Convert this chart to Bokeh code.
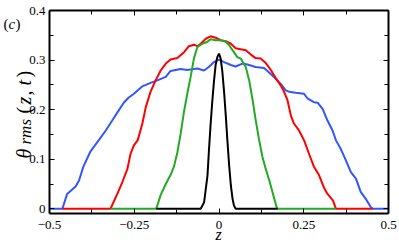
import math
from bokeh.plotting import figure
from bokeh.models import FixedTicker, LinearAxis, Label, Range1d
from bokeh.embed import file_html
from bokeh.resources import INLINE

# ---- data ----
blue_x = [-0.5, -0.462, -0.448, -0.423, -0.413, -0.400, -0.379, -0.354, -0.334, -0.315, -0.299,
          -0.281, -0.267, -0.251, -0.226, -0.202, -0.182, -0.157, -0.143, -0.113, -0.093, -0.084,
          -0.064, -0.044, -0.030, -0.015, 0.0, 0.015, 0.035, 0.049, 0.069, 0.084, 0.108, 0.133,
          0.143, 0.162, 0.182, 0.197, 0.207, 0.226, 0.251, 0.262, 0.280, 0.291, 0.306, 0.320,
          0.335, 0.345, 0.359, 0.374, 0.389, 0.404, 0.418, 0.433, 0.448, 0.454, 0.5]
blue_y = [0, 0, 0.030, 0.045, 0.057, 0.085, 0.116, 0.139, 0.158, 0.178, 0.195,
          0.214, 0.224, 0.232, 0.247, 0.254, 0.259, 0.266, 0.278, 0.282, 0.280, 0.281,
          0.283, 0.279, 0.286, 0.296, 0.301, 0.296, 0.290, 0.287, 0.293, 0.291, 0.286, 0.284,
          0.278, 0.266, 0.252, 0.239, 0.236, 0.234, 0.232, 0.222, 0.215, 0.214, 0.201, 0.178,
          0.158, 0.138, 0.121, 0.098, 0.074, 0.061, 0.034, 0.020, 0.003, 0, 0]

red_x = [-0.462, -0.320, -0.300, -0.285, -0.270, -0.261, -0.251, -0.240, -0.226, -0.216, -0.202,
         -0.187, -0.172, -0.157, -0.143, -0.123, -0.103, -0.089, -0.074, -0.064, -0.054, -0.039,
         -0.025, -0.010, 0.005, 0.020, 0.035, 0.049, 0.064, 0.079, 0.094, 0.108, 0.123, 0.138,
         0.153, 0.168, 0.182, 0.192, 0.202, 0.212, 0.221, 0.236, 0.251, 0.266, 0.280, 0.295,
         0.310, 0.320, 0.336, 0.345, 0.454]
red_y = [0, 0, 0.030, 0.054, 0.081, 0.111, 0.128, 0.138, 0.172, 0.205, 0.236,
         0.259, 0.279, 0.293, 0.301, 0.304, 0.316, 0.328, 0.331, 0.328, 0.333, 0.343,
         0.348, 0.345, 0.340, 0.338, 0.333, 0.324, 0.322, 0.320, 0.311, 0.304, 0.303, 0.294,
         0.280, 0.263, 0.249, 0.236, 0.219, 0.188, 0.172, 0.158, 0.138, 0.110, 0.085, 0.068,
         0.042, 0.030, 0.017, 0.0, 0]

green_x = [-0.320, -0.185, -0.172, -0.157, -0.143, -0.133, -0.123, -0.113, -0.103, -0.093, -0.084,
           -0.074, -0.064, -0.049, -0.034, -0.025, -0.010, 0.005, 0.020, 0.030, 0.044, 0.054,
           0.064, 0.079, 0.089, 0.099, 0.108, 0.118, 0.128, 0.138, 0.148, 0.162, 0.170, 0.173,
           0.345]
green_y = [0, 0, 0.028, 0.050, 0.068, 0.085, 0.113, 0.152, 0.197, 0.234, 0.265,
           0.303, 0.326, 0.333, 0.337, 0.342, 0.340, 0.340, 0.337, 0.330, 0.316, 0.306,
           0.303, 0.286, 0.259, 0.220, 0.180, 0.140, 0.105, 0.080, 0.058, 0.023, 0.003, 0,
           0]

black_x = [-0.185, -0.054, -0.044, -0.034, -0.030, -0.025, -0.020, -0.015, -0.010, -0.005, 0.0,
           0.005, 0.010, 0.015, 0.020, 0.025, 0.030, 0.035, 0.040, 0.044, 0.049, 0.173]
black_y = [0, 0, 0.013, 0.067, 0.114, 0.168, 0.215, 0.256, 0.290, 0.306, 0.313,
           0.303, 0.276, 0.236, 0.188, 0.135, 0.087, 0.047, 0.020, 0.007, 0, 0]

x_ticks = [-0.5, -0.25, 0.0, 0.25, 0.5]
x_tick_labels = ["\u22120.5", "\u22120.25", "0", "0.25", "0.5"]
x_minor = [-0.375, -0.125, 0.125, 0.375]
y_ticks = [0.0, 0.1, 0.2, 0.3, 0.4]
y_tick_labels = ["0", "0.1", "0.2", "0.3", "0.4"]
y_minor = [0.05, 0.15, 0.25, 0.35]
x_lo, x_hi = -0.5, 0.5
y_lo, y_hi = -0.0089, 0.4

FONT = "Liberation Serif"
W, H = 399, 243
# pixel box of the plotting area inside the canvas
L_PX, R_PX, T_PX, B_PX = 49, 388, 10, 212.7
sx = (x_hi - x_lo) / (R_PX - L_PX)
sy = (y_hi - y_lo) / (B_PX - T_PX)

p = figure(width=W, height=H, output_backend="svg", toolbar_location=None,
           x_range=Range1d(x_lo - L_PX * sx, x_hi + (W - R_PX) * sx),
           y_range=Range1d(y_lo - (H - B_PX) * sy, y_hi + T_PX * sy),
           min_border=0, x_axis_location=None, y_axis_location=None)
p.background_fill_color = "white"
p.border_fill_color = "white"
p.outline_line_color = None
p.grid.visible = False

def make_axis(side, loc, ticks, minor, labels, bounds, show_labels, standoff):
    ax = LinearAxis(fixed_location=loc, bounds=bounds)
    ax.ticker = FixedTicker(ticks=ticks, minor_ticks=minor)
    ax.axis_line_width = 2
    ax.axis_line_color = "black"
    ax.major_tick_in = 5
    ax.major_tick_out = 0
    ax.minor_tick_in = 4
    ax.minor_tick_out = 0
    ax.major_tick_line_color = "black"
    ax.minor_tick_line_color = "black"
    ax.major_label_text_font = FONT
    ax.major_label_text_font_size = "13px"
    ax.major_label_text_color = "black"
    ax.major_label_standoff = standoff
    if show_labels:
        ax.major_label_overrides = {t: l for t, l in zip(ticks, labels)}
    else:
        ax.major_label_overrides = {t: "" for t in ticks}
    p.add_layout(ax, side)
    return ax

make_axis("below", y_lo, x_ticks, x_minor, x_tick_labels, (x_lo, x_hi), True, 8)
make_axis("left", x_lo, y_ticks, y_minor, y_tick_labels, (y_lo, y_hi), True, 4)
make_axis("above", y_hi, x_ticks, x_minor, x_tick_labels, (x_lo, x_hi), False, 4)
make_axis("right", x_hi, y_ticks, y_minor, y_tick_labels, (y_lo, y_hi), False, 4)

p.line(blue_x, blue_y, line_color="#3355ff", line_width=2)
p.line(red_x, red_y, line_color="#ff0000", line_width=2)
p.line(green_x, green_y, line_color="#22aa22", line_width=2)
p.line(black_x, black_y, line_color="#000000", line_width=2)

def lab(text, px, py, size, style="italic", angle=0.0, align="left"):
    # px, py: canvas pixel position measured from top-left
    p.add_layout(Label(x=px, y=H - py, x_units="screen", y_units="screen", text=text,
                       text_font=FONT, text_font_size=size, text_font_style=style,
                       text_color="black", angle=angle, text_align=align,
                       text_baseline="alphabetic"))

# y axis label: theta_rms(z, t), rotated, built from pieces
ang = math.pi / 2
lab("\u03b8", 23, 158, "20px", angle=ang)
lab("rms", 25, 144, "17px", angle=ang)
lab("(", 23, 113, "20px", style="normal", angle=ang)
lab("z", 23, 104, "20px", angle=ang)
lab(",", 23, 95, "20px", style="normal", angle=ang)
lab("t", 23, 85, "20px", angle=ang)
lab(")", 23, 77, "20px", style="normal", angle=ang)
# x axis label
lab("z", 218, 234, "16px", align="center")
# panel tag
lab("(", 3, 23, "15px", style="normal")
lab("c", 8, 23, "15px")
lab(")", 15, 23, "15px", style="normal")

open("out.html", "w").write(file_html(p, INLINE))
